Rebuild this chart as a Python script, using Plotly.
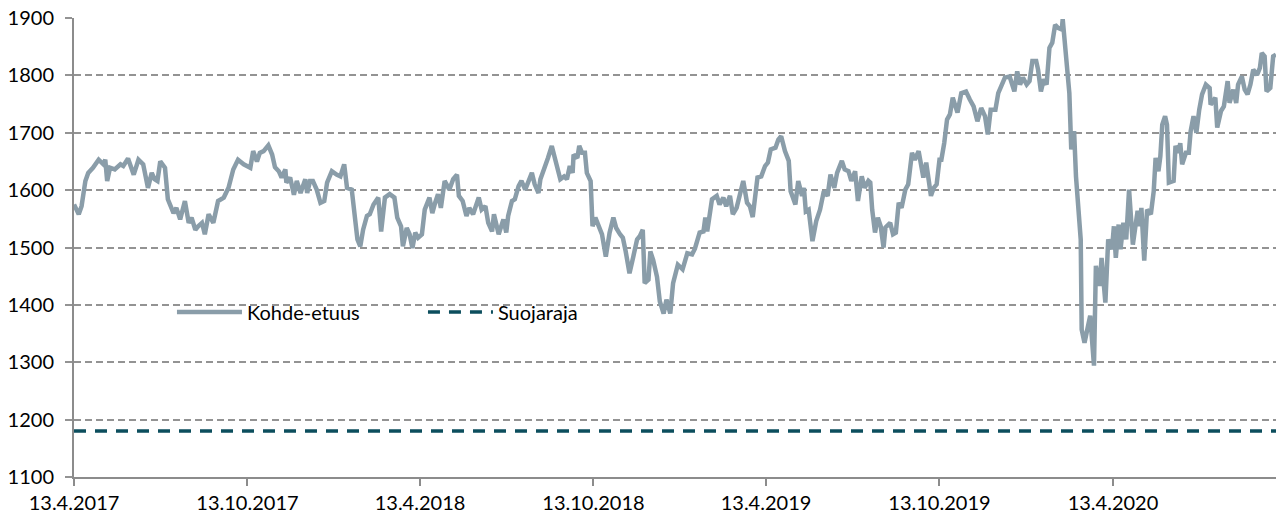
import pandas as pd
import plotly.graph_objects as go

start_date = "2017-04-13"
end_date = "2020-10-02"

# days since 13.4.2017 and index level (Kohde-etuus)
days = [
    0, 5, 8, 12, 15, 20, 26, 31, 33, 35, 38, 43, 49, 52, 57, 63, 68, 73, 78, 82,
    85, 88, 91, 96, 99, 105, 108, 112, 117, 121, 124, 128, 131, 135, 138, 142, 147, 152, 158, 163,
    168, 173, 179, 186, 189, 193, 196, 200, 205, 209, 212,
    216, 219, 223, 224, 228, 232, 235, 239, 244, 246, 249, 252, 256, 260, 264, 267, 272, 277, 281, 285,
    288, 293, 296, 299, 302, 305, 309, 312, 316, 321, 324, 328, 333, 338, 341, 345, 347, 351, 354, 357,
    360, 363, 367, 370, 375, 378, 381, 384, 387, 391, 396, 400, 404, 406, 410, 414, 417, 421,
    427, 430, 434, 437, 441, 443, 448, 451, 453, 456, 458, 462, 465, 469, 472, 476, 479, 483, 486, 490,
    492, 497, 500, 504, 507, 510, 513, 517, 520, 523, 526, 527, 531, 533, 536, 539, 541, 545, 547, 550,
    553, 557, 561, 565, 569, 572, 576, 579, 582, 586, 590, 594, 597, 600, 602, 606, 608, 611, 615, 618,
    622, 625, 629,
    632, 637, 642, 647, 652, 655, 660, 664, 666, 668, 673, 678, 681, 685, 688, 692, 695, 699, 703, 706,
    710, 713, 716, 721, 725, 729, 732, 735, 740, 743, 746, 750, 754, 756, 761, 764, 768, 770, 772, 775,
    779, 783, 787, 791, 795, 798, 802, 805, 810, 813, 817, 820, 824, 827, 831, 834, 838, 840, 842, 845,
    848, 851, 854, 856, 861, 864, 867, 870, 873, 877, 880, 884, 887, 891, 896, 899, 904, 907, 910, 913,
    915, 918, 921, 924, 927, 932, 936, 941, 945, 949, 953, 957, 961, 964, 967, 972, 975, 979, 982, 987,
    992, 995, 998, 1001, 1005, 1008, 1011, 1015, 1017, 1020, 1023, 1026, 1029, 1032, 1035, 1038, 1042, 1043, 1047, 1050,
    1052, 1055, 1057,
    1062, 1063, 1066, 1072, 1076, 1078, 1082, 1084, 1088, 1091, 1095, 1097, 1099, 1102, 1104, 1107, 1110, 1113, 1117, 1122,
    1124, 1126, 1129, 1132, 1136, 1139, 1141, 1144, 1146, 1148, 1151, 1153, 1155, 1160, 1162, 1165, 1167, 1169, 1173, 1176,
    1178, 1181, 1184, 1187, 1190, 1194, 1198, 1199, 1204, 1206, 1210, 1213, 1217, 1219, 1223, 1226, 1228, 1232, 1235, 1238,
    1241, 1244, 1248, 1251, 1253, 1256, 1258, 1262, 1265, 1268,
]

kohde_etuus = [
    1575, 1558, 1572, 1616, 1630, 1639, 1653, 1645, 1653, 1616, 1639, 1636, 1645, 1642, 1655, 1627, 1653, 1645, 1604, 1630,
    1619, 1616, 1650, 1639, 1584, 1560, 1569, 1549, 1581, 1543, 1552, 1531, 1537, 1543, 1523, 1558, 1543, 1581, 1587, 1604,
    1636, 1653, 1645, 1639, 1668, 1650, 1665, 1668, 1678, 1662, 1640,
    1633, 1622, 1636, 1613, 1622, 1592, 1616, 1595, 1619, 1595, 1616, 1616, 1601, 1578, 1581, 1613, 1633, 1627, 1624, 1645,
    1604, 1601, 1560, 1514, 1502, 1531, 1555, 1558, 1575, 1587, 1528, 1587, 1593, 1587, 1552, 1537, 1502, 1534, 1523, 1499,
    1526, 1517, 1523, 1566, 1587, 1560, 1578, 1593, 1569, 1616, 1601, 1619, 1627, 1590, 1581, 1555, 1569, 1558,
    1587, 1566, 1572, 1543, 1528, 1558, 1523, 1537, 1549, 1526, 1555, 1581, 1584, 1607, 1616, 1601, 1613, 1630, 1610, 1595,
    1619, 1639, 1656, 1677, 1659, 1642, 1619, 1624, 1619, 1642, 1630, 1662, 1656, 1677, 1665, 1665, 1630, 1616, 1537, 1552,
    1537, 1523, 1484, 1526, 1552, 1534, 1523, 1517, 1493, 1455, 1484, 1514, 1520, 1531, 1438, 1444, 1493, 1478, 1449, 1406,
    1385, 1409, 1385,
    1438, 1470, 1462, 1490, 1488, 1498, 1526, 1528, 1552, 1528, 1584, 1590, 1575, 1587, 1572, 1590, 1558, 1569, 1601, 1616,
    1578, 1572, 1553, 1622, 1624, 1642, 1648, 1671, 1674, 1688, 1694, 1668, 1651, 1598, 1575, 1616, 1590, 1604, 1563, 1566,
    1511, 1546, 1566, 1598, 1590, 1627, 1604, 1630, 1651, 1636, 1633, 1616, 1633, 1581, 1624, 1604, 1616, 1613, 1566, 1526,
    1552, 1537, 1500, 1535, 1543, 1523, 1526, 1578, 1569, 1601, 1610, 1665, 1653, 1668, 1622, 1648, 1590, 1604, 1610, 1653,
    1653, 1682, 1723, 1732, 1761, 1735, 1769, 1772, 1758, 1746, 1720, 1743, 1729, 1697, 1740, 1740, 1769, 1784, 1796, 1798,
    1772, 1807, 1784, 1796, 1784, 1790, 1825, 1825, 1810, 1772, 1793, 1784, 1848, 1857, 1888, 1883, 1880, 1898, 1833, 1769,
    1671, 1703, 1624,
    1514, 1357, 1334, 1381, 1294, 1468, 1433, 1482, 1404, 1514, 1497, 1537, 1482, 1540, 1497, 1543, 1514, 1601, 1505, 1564,
    1537, 1569, 1477, 1566, 1558, 1598, 1656, 1633, 1659, 1714, 1729, 1714, 1613, 1616, 1677, 1665, 1682, 1645, 1665, 1665,
    1703, 1729, 1700, 1740, 1767, 1784, 1778, 1749, 1761, 1709, 1738, 1746, 1790, 1752, 1775, 1752, 1784, 1798, 1775, 1767,
    1784, 1810, 1801, 1813, 1839, 1833, 1772, 1778, 1833, 1836,
]

suojaraja_level = 1180

tick_dates = ["2017-04-13", "2017-10-13", "2018-04-13", "2018-10-13",
              "2019-04-13", "2019-10-13", "2020-04-13"]
tick_labels = ["13.4.2017", "13.10.2017", "13.4.2018", "13.10.2018",
               "13.4.2019", "13.10.2019", "13.4.2020"]

dates = pd.Timestamp(start_date) + pd.to_timedelta(days, unit="D")

FONT = "Lato"
FSIZE = 20
fig = go.Figure()
fig.add_trace(go.Scatter(
    x=dates, y=kohde_etuus, mode="lines", name="Kohde-etuus",
    line=dict(color="#8A9DA9", width=4.5),
))
fig.add_trace(go.Scatter(
    x=[start_date, end_date], y=[suojaraja_level, suojaraja_level],
    mode="lines", name="Suojaraja",
    line=dict(color="#0C4E5D", width=3.5, dash="12px,9px"),
))

fig.update_layout(
    width=1276, height=519,
    margin=dict(l=74, r=0, t=18, b=42),
    paper_bgcolor="white", plot_bgcolor="white",
    font=dict(family=FONT, size=FSIZE, color="#000000"),
    showlegend=True,
    legend=dict(
        orientation="h", x=0.0815, y=0.3595, xanchor="left", yanchor="middle",
        bgcolor="rgba(0,0,0,0)", font=dict(family=FONT, size=FSIZE, color="#000000"),
        entrywidth=171, entrywidthmode="pixels", itemwidth=65,
    ),
)
fig.update_xaxes(
    range=[start_date, end_date], tickvals=tick_dates, ticktext=tick_labels,
    showgrid=False, showline=True, linecolor="#8C8C8C", linewidth=2,
    ticks="outside", ticklen=7, tickcolor="#8C8C8C", tickwidth=1.5,
    tickfont=dict(family=FONT, size=FSIZE, color="#000000"), zeroline=False,
)
fig.update_yaxes(
    range=[1100, 1900], dtick=100, tick0=1100,
    showgrid=True, gridcolor="#939393", gridwidth=1.5, griddash="7px,4px",
    showline=True, linecolor="#8C8C8C", linewidth=2,
    ticks="outside", ticklen=7, tickcolor="#939393", tickwidth=1.5,
    ticklabelstandoff=7,
    tickfont=dict(family=FONT, size=FSIZE, color="#000000"), zeroline=False,
)

fig.write_html("out.html")
